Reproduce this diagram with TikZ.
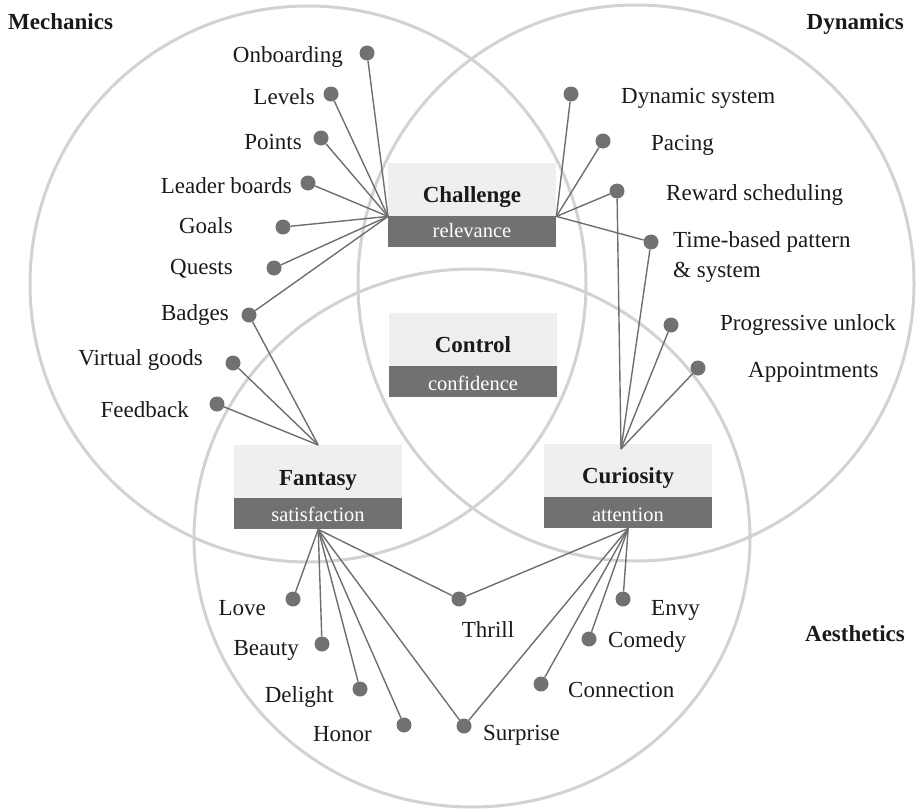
\documentclass[tikz,border=0pt]{standalone}
\usepackage{fontspec}
\setmainfont{Liberation Serif}
\newfontfamily\diagfont{Liberation Serif}
\definecolor{ringgrey}{HTML}{D2D2D2}
\definecolor{linkgrey}{HTML}{6E6E6E}
\definecolor{dotgrey}{HTML}{717171}
\definecolor{boxlight}{HTML}{EEF0EF}
\definecolor{boxdark}{HTML}{717171}
\definecolor{textblack}{HTML}{1A1A1A}
\begin{document}
\begin{tikzpicture}[x=1pt,y=-1pt,
  ring/.style={draw=ringgrey, line width=3pt},
  link/.style={draw=linkgrey, line width=1.4pt},
  dot/.style={circle, fill=dotgrey, inner sep=0pt, minimum size=15pt},
  lbl/.style={inner sep=0pt, font=\diagfont\fontsize{23}{27}\selectfont, text=textblack},
  head/.style={inner sep=0pt, font=\diagfont\fontsize{23}{27}\selectfont\bfseries, text=textblack},
  topbox/.style={fill=boxlight, inner sep=0pt, minimum width=168pt, minimum height=53pt, anchor=north west},
  barbox/.style={fill=boxdark, inner sep=0pt, minimum width=168pt, minimum height=31pt, anchor=north west},
  subtxt/.style={inner sep=0pt, font=\diagfont\fontsize{20.5}{24}\selectfont, text=white, anchor=base},
]
\useasboundingbox (0,0) rectangle (916,811);

% the three overlapping sets
\draw[ring] (308,284) circle [radius=278pt];
\draw[ring] (636,283) circle [radius=278pt];
\draw[ring] (472,538) ellipse [x radius=278pt, y radius=269pt];

% set titles
\node[head, anchor=base west] (mech) at (8,29) {Mechanics};
\node[head, anchor=base east] (dynm) at (904,29) {Dynamics};
\node[head, anchor=base east] (aest) at (905,641) {Aesthetics};

% core boxes
\node[topbox] (chal) at (388,163) {};
\node[barbox] (chalbar) at (388,216) {};
\node[head, anchor=base] (chalt) at (472,202) {Challenge};
\node[subtxt] (chals) at (472,237) {relevance};

\node[topbox] (ctrl) at (389,313) {};
\node[barbox] (ctrlbar) at (389,366) {};
\node[head, anchor=base] (ctrlt) at (473,352) {Control};
\node[subtxt] (ctrls) at (473,390) {confidence};

\node[topbox] (fant) at (234,445) {};
\node[barbox] (fantbar) at (234,498) {};
\node[head, anchor=base] (fantt) at (318,485) {Fantasy};
\node[subtxt] (fants) at (318,521) {satisfaction};

\node[topbox] (curi) at (544,444) {};
\node[barbox] (curibar) at (544,497) {};
\node[head, anchor=base] (curit) at (628,483) {Curiosity};
\node[subtxt] (curis) at (628,521) {attention};

\coordinate (curhub) at (621,449);

% mechanics items
\node[dot] (onb) at (367,53) {};
\node[dot] (lev) at (331,94) {};
\node[dot] (pts) at (321,138) {};
\node[dot] (ldr) at (308,183) {};
\node[dot] (gls) at (283,227) {};
\node[dot] (qst) at (274,268) {};
\node[dot] (bdg) at (249,315) {};
\node[dot] (vgd) at (233,363) {};
\node[dot] (fdb) at (217,404) {};
\node[lbl, anchor=base east] (onbt) at (343,62) {Onboarding};
\node[lbl, anchor=base east] (levt) at (315,104) {Levels};
\node[lbl, anchor=base east] (ptst) at (302,149) {Points};
\node[lbl, anchor=base east] (ldrt) at (292,193) {Leader boards};
\node[lbl, anchor=base east] (glst) at (233,233) {Goals};
\node[lbl, anchor=base east] (qstt) at (233,274) {Quests};
\node[lbl, anchor=base east] (bdgt) at (229,320) {Badges};
\node[lbl, anchor=base east] (vgdt) at (203,365) {Virtual goods};
\node[lbl, anchor=base east] (fdbt) at (189,417) {Feedback};

% dynamics items
\node[dot] (dyn) at (571,94) {};
\node[dot] (pac) at (603,141) {};
\node[dot] (rws) at (617,191) {};
\node[dot] (tbp) at (651,242) {};
\node[dot] (pro) at (671,325) {};
\node[dot] (app) at (698,368) {};
\node[lbl, anchor=base west] (dynt) at (621,103) {Dynamic system};
\node[lbl, anchor=base west] (pact) at (651,150) {Pacing};
\node[lbl, anchor=base west] (rwst) at (666,200) {Reward scheduling};
\node[lbl, anchor=base west] (tbpt) at (673,247) {Time-based pattern};
\node[lbl, anchor=base west] (tbpu) at (673,277) {\& system};
\node[lbl, anchor=base west] (prot) at (720,330) {Progressive unlock};
\node[lbl, anchor=base west] (appt) at (748,377) {Appointments};

% aesthetics items
\node[dot] (love) at (293,599) {};
\node[dot] (bea) at (322,644) {};
\node[dot] (del) at (360,689) {};
\node[dot] (hon) at (404,725) {};
\node[dot] (thr) at (459,599) {};
\node[dot] (sur) at (464,726) {};
\node[dot] (env) at (623,599) {};
\node[dot] (com) at (589,639) {};
\node[dot] (con) at (541,684) {};
\node[lbl, anchor=base east] (lovet) at (266,615) {Love};
\node[lbl, anchor=base east] (beat) at (299,655) {Beauty};
\node[lbl, anchor=base east] (delt) at (334,702) {Delight};
\node[lbl, anchor=base east] (hont) at (372,741) {Honor};
\node[lbl, anchor=base] (thrt) at (488,637) {Thrill};
\node[lbl, anchor=base west] (surt) at (483,740) {Surprise};
\node[lbl, anchor=base west] (envt) at (651,615) {Envy};
\node[lbl, anchor=base west] (comt) at (608,647) {Comedy};
\node[lbl, anchor=base west] (cont) at (568,697) {Connection};

% connectors
\foreach \d in {onb,lev,pts,ldr,gls,qst,bdg}
  \draw[link] (chal.south west) -- (\d);
\foreach \d in {bdg,vgd,fdb}
  \draw[link] (fant.north) -- (\d);
\foreach \d in {dyn,pac,rws,tbp}
  \draw[link] (chal.south east) -- (\d);
\foreach \d in {rws,tbp,pro,app}
  \draw[link] (curhub) -- (\d);
\foreach \d in {love,bea,del,hon,thr,sur}
  \draw[link] (fantbar.south) -- (\d);
\foreach \d in {thr,sur,env,com,con}
  \draw[link] (curibar.south) -- (\d);
\end{tikzpicture}
\end{document}
